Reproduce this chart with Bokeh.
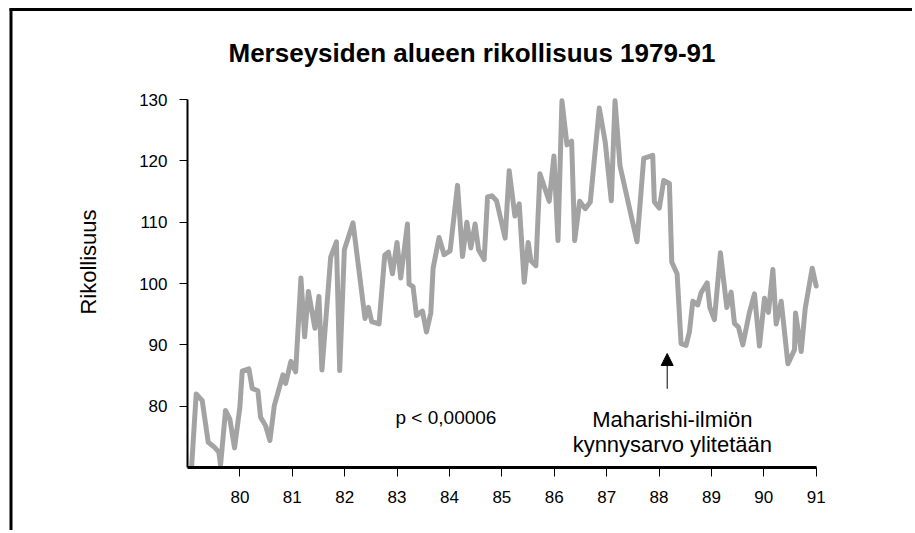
import math
from bokeh.plotting import figure
from bokeh.models import (Label, Arrow, NormalHead, FixedTicker, Range1d,
                          ColumnDataSource, BoxAnnotation)
from bokeh.embed import file_html
from bokeh.resources import INLINE

# ---- data ----
years = [79.08, 79.166, 79.281, 79.396, 79.503, 79.598, 79.631, 79.726, 79.808, 79.898,
         79.999, 80.045, 80.171, 80.236, 80.343, 80.395, 80.491, 80.573, 80.657, 80.821,
         80.873, 80.974, 81.064, 81.165, 81.236, 81.307, 81.433, 81.509, 81.566, 81.733,
         81.842, 81.905, 81.994, 82.159, 82.388, 82.453, 82.516, 82.656, 82.765, 82.835,
         82.912, 82.999, 83.070, 83.198, 83.229, 83.305, 83.370, 83.485, 83.561, 83.644,
         83.688, 83.802, 83.898, 84.012, 84.154, 84.249, 84.332, 84.408, 84.490, 84.555,
         84.662, 84.727, 84.809, 84.899, 85.063, 85.140, 85.249, 85.331, 85.427, 85.503,
         85.555, 85.650, 85.727, 85.904, 85.994, 86.071, 86.147, 86.243, 86.332, 86.390,
         86.485, 86.592, 86.688, 86.860, 86.974, 87.089, 87.160, 87.255, 87.580, 87.708,
         87.880, 87.911, 88.006, 88.090, 88.198, 88.243, 88.345, 88.421, 88.516, 88.580,
         88.645, 88.740, 88.803, 88.918, 88.969, 89.057, 89.172, 89.294, 89.376, 89.440,
         89.516, 89.600, 89.726, 89.822, 89.917, 90.013, 90.089, 90.173, 90.236, 90.332,
         90.460, 90.586, 90.605, 90.714, 90.790, 90.924, 91.0]
crime = [70.3, 82.0, 80.9, 74.1, 73.4, 72.5, 70.4, 79.3, 77.9, 73.2,
         79.8, 85.7, 86.1, 82.9, 82.5, 78.2, 76.8, 74.4, 80.1, 85.1,
         83.7, 87.3, 85.6, 100.9, 91.3, 98.7, 92.7, 97.9, 85.9, 104.3,
         106.8, 85.8, 105.5, 109.9, 94.3, 96.1, 93.8, 93.4, 104.6, 105.1,
         101.6, 106.7, 100.9, 109.7, 99.9, 99.5, 94.8, 95.5, 92.1, 95.2,
         102.5, 107.5, 104.7, 105.3, 116.0, 104.4, 110.0, 105.8, 109.7, 105.5,
         103.9, 114.1, 114.3, 113.5, 107.4, 118.4, 111.0, 113.0, 100.2, 106.7,
         103.7, 102.9, 117.9, 113.4, 120.8, 107.0, 129.8, 122.6, 123.2, 107.0,
         113.4, 112.2, 113.3, 128.6, 123.0, 113.5, 129.8, 119.2, 106.8, 120.4,
         120.9, 113.3, 112.3, 116.8, 116.3, 103.5, 101.6, 90.2, 89.9, 92.1,
         97.1, 96.5, 98.5, 100.1, 96.1, 94.1, 105.0, 96.1, 98.6, 93.5,
         92.9, 90.0, 95.3, 98.3, 89.8, 97.6, 95.3, 102.3, 93.4, 97.1,
         86.9, 89.2, 95.2, 88.9, 95.9, 102.5, 99.6]
x_ticks = [80, 81, 82, 83, 84, 85, 86, 87, 88, 89, 90, 91]
y_ticks = [80, 90, 100, 110, 120, 130]
x_bounds = (79, 91)
y_bounds = (70, 130)

title_text = "Merseysiden alueen rikollisuus 1979-91"
y_label = "Rikollisuus"
p_text = "p < 0,00006"
note_lines = ["Maharishi-ilmiön", "kynnysarvo ylitetään"]

FONT = "Liberation Sans"
W, H = 912, 530

# pixel geometry of the axes box inside the canvas
AX_L, AX_R, AX_T, AX_B = 187.0, 815.7, 99.0, 467.0
SX = (AX_R - AX_L) / (x_bounds[1] - x_bounds[0])
SY = (AX_B - AX_T) / (y_bounds[1] - y_bounds[0])


def dx(px):
    return x_bounds[0] + (px - AX_L) / SX


def dy(py):
    return y_bounds[1] - (py - AX_T) / SY


p = figure(width=W, height=H, output_backend="svg", toolbar_location=None,
           x_range=Range1d(dx(0), dx(W)), y_range=Range1d(dy(H), dy(0)),
           min_border=0, min_border_left=0, min_border_right=0,
           min_border_top=0, min_border_bottom=0)
p.title.visible = False
p.outline_line_color = None
p.grid.visible = False
p.background_fill_color = "white"
p.border_fill_color = "white"

# outer frame (its left and top edges lie inside the window)
p.add_layout(BoxAnnotation(left=dx(9), right=dx(12), top=dy(8), bottom=dy(H),
                           fill_color="black", fill_alpha=1.0, line_color=None))
p.add_layout(BoxAnnotation(left=dx(9), right=dx(W), top=dy(7.5), bottom=dy(10.5),
                           fill_color="black", fill_alpha=1.0, line_color=None))

# axes
for ax in (p.xaxis[0], p.yaxis[0]):
    ax.axis_line_color = "black"
    ax.major_tick_line_color = "black"
    ax.major_tick_line_width = 1
    ax.major_tick_in = 0
    ax.minor_tick_line_color = None
    ax.major_label_text_font = FONT
    ax.major_label_text_font_size = "17px"
    ax.major_label_text_color = "black"

p.xaxis[0].ticker = FixedTicker(ticks=x_ticks)
p.xaxis[0].fixed_location = y_bounds[0]
p.xaxis[0].bounds = x_bounds
p.xaxis[0].axis_line_width = 3
p.xaxis[0].major_tick_out = 9
p.xaxis[0].major_label_standoff = 14

p.yaxis[0].ticker = FixedTicker(ticks=y_ticks)
p.yaxis[0].fixed_location = x_bounds[0]
p.yaxis[0].bounds = y_bounds
p.yaxis[0].axis_line_width = 2
p.yaxis[0].major_tick_out = 8
p.yaxis[0].major_label_standoff = 12

src = ColumnDataSource(data=dict(x=years, y=crime))
p.line("x", "y", source=src, line_color="#a3a3a3", line_width=5,
       line_join="round", line_cap="round")

# chart title
p.add_layout(Label(x=dx(471.5), y=dy(52.5), text=title_text, text_font=FONT,
                   text_font_size="26px", text_font_style="bold", text_color="black",
                   text_baseline="alphabetic", text_align="center"))

# y-axis title
p.add_layout(Label(x=dx(88), y=dy(261.5), text=y_label, text_font=FONT,
                   text_font_size="22px", text_color="black", angle=math.pi / 2,
                   text_baseline="middle", text_align="center"))

p.add_layout(Label(x=dx(395), y=dy(416.7), text=p_text, text_font=FONT,
                   text_font_size="19px", text_color="black",
                   text_baseline="alphabetic", text_align="left"))
p.add_layout(Label(x=dx(671.8), y=dy(418.5), text=note_lines[0], text_font=FONT,
                   text_font_size="22px", text_color="black",
                   text_baseline="alphabetic", text_align="center"))
p.add_layout(Label(x=dx(671.8), y=dy(444.3), text=note_lines[1], text_font=FONT,
                   text_font_size="22px", text_color="black",
                   text_baseline="alphabetic", text_align="center"))
p.add_layout(Arrow(end=NormalHead(size=12, fill_color="black", line_color="black"),
                   x_start=dx(666.7), y_start=dy(388.3), x_end=dx(666.7), y_end=dy(353),
                   line_color="black", line_width=1))

open("out.html", "w").write(file_html(p, INLINE))
